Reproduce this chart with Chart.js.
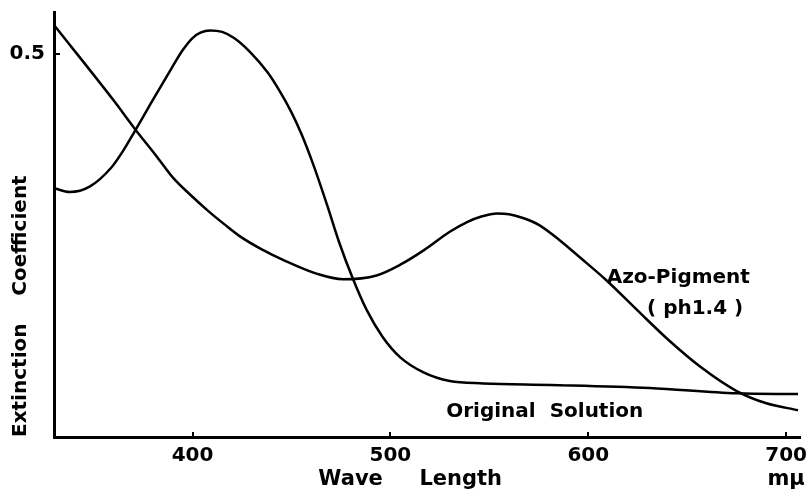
<!DOCTYPE html>
<html>
<head>
<meta charset="utf-8">
<script src="https://cdn.jsdelivr.net/npm/chart.js@4.4.1/dist/chart.umd.min.js"></script>
<style>
    html, body { margin: 0; padding: 0; background: #fff; }
</style>
</head>
<body>
<canvas id="myChart" width="809" height="498"></canvas>
<script>
// Original solution: wavelength (mµ) and extinction coefficient
const origWave = [330, 338, 348, 359, 365, 371, 379, 387, 395, 400, 404, 409, 415, 421, 429, 438, 444, 450, 455, 461, 468, 474, 481, 488, 496, 505, 517, 530, 547, 581, 631, 675, 706];
const origExt = [0.325, 0.320, 0.327, 0.352, 0.374, 0.400, 0.436, 0.471, 0.505, 0.521, 0.528, 0.531, 0.529, 0.521, 0.503, 0.476, 0.452, 0.424, 0.396, 0.356, 0.303, 0.255, 0.207, 0.166, 0.131, 0.104, 0.084, 0.073, 0.070, 0.068, 0.064, 0.057, 0.056];

// Azo-Pigment (ph 1.4)
const azoWave = [330, 360, 371, 382, 390, 399, 408, 416, 424, 435, 446, 463, 476, 493, 505, 517, 530, 539, 546, 554, 560, 567, 575, 586, 596, 609, 625, 640, 657, 675, 690, 706];
const azoExt = [0.538, 0.440, 0.402, 0.366, 0.339, 0.316, 0.295, 0.278, 0.262, 0.245, 0.231, 0.213, 0.206, 0.211, 0.225, 0.244, 0.268, 0.281, 0.288, 0.292, 0.291, 0.286, 0.277, 0.256, 0.234, 0.205, 0.165, 0.128, 0.091, 0.060, 0.044, 0.035];

const xTicks = [400, 500, 600, 700];
const yTicks = [0.5];

// text written inside the plot, placed in data units
const notes = [
    { text: "Azo-Pigment", x: 645.5, y: 0.208 },
    { text: "( ph1.4 )", x: 654, y: 0.168 },
    { text: "Original  Solution", x: 578, y: 0.033 }
];

const FONT = "'DejaVu Sans', sans-serif";

function toPoints(xs, ys) {
    return xs.map((x, i) => ({ x: x, y: ys[i] }));
}

const textPlugin = {
    id: "textPlugin",
    afterDraw(chart) {
        const ctx = chart.ctx;
        const xs = chart.scales.x;
        const ys = chart.scales.y;
        ctx.save();
        ctx.fillStyle = "#000";
        ctx.textAlign = "center";
        ctx.textBaseline = "middle";
        ctx.font = "bold 20px " + FONT;
        notes.forEach(n => {
            ctx.fillText(n.text, xs.getPixelForValue(n.x), ys.getPixelForValue(n.y));
        });
        // x axis title and unit
        ctx.font = "bold 21px " + FONT;
        ctx.fillText("Wave     Length", xs.getPixelForValue(510), 480);
        ctx.fillText("mμ", xs.getPixelForValue(700), 480);
        ctx.restore();
    }
};

const config = {
    type: "line",
    data: {
        datasets: [
            {
                label: "Azo-Pigment (ph1.4)",
                data: toPoints(azoWave, azoExt),
                borderColor: "#000",
                borderWidth: 2.5,
                pointRadius: 0,
                cubicInterpolationMode: "monotone"
            },
            {
                label: "Original Solution",
                data: toPoints(origWave, origExt),
                borderColor: "#000",
                borderWidth: 2.5,
                pointRadius: 0,
                cubicInterpolationMode: "monotone"
            }
        ]
    },
    options: {
        responsive: false,
        animation: false,
        devicePixelRatio: 1,
        layout: { padding: { top: 12, right: 9, left: 0, bottom: 0 } },
        plugins: {
            legend: { display: false },
            tooltip: { enabled: false }
        },
        scales: {
            x: {
                type: "linear",
                min: 330,
                max: 707,
                afterBuildTicks: s => { s.ticks = xTicks.map(v => ({ value: v })); },
                afterFit: s => { s.height = 61; s.paddingLeft = 0; s.paddingRight = 0; },
                ticks: {
                    color: "#000",
                    font: { family: FONT, size: 20, weight: "bold" },
                    padding: 12,
                    maxRotation: 0
                },
                grid: { drawOnChartArea: false, drawTicks: true, tickLength: -5, color: "#000", lineWidth: 2 },
                border: { color: "#000", width: 3 }
            },
            y: {
                type: "linear",
                min: 0,
                max: 0.555,
                afterBuildTicks: s => { s.ticks = yTicks.map(v => ({ value: v })); },
                afterFit: s => { s.width = 54; s.paddingTop = 0; s.paddingBottom = 0; },
                ticks: {
                    color: "#000",
                    font: { family: FONT, size: 20, weight: "bold" },
                    padding: 15,
                    callback: v => v.toString()
                },
                grid: { drawOnChartArea: false, drawTicks: true, tickLength: -6, color: "#000", lineWidth: 2 },
                border: { color: "#000", width: 3 },
                title: {
                    display: true,
                    text: "Extinction    Coefficient",
                    align: "start",
                    color: "#000",
                    font: { family: FONT, size: 20, weight: "bold" },
                    padding: { top: 9, bottom: 0 }
                }
            }
        }
    },
    plugins: [textPlugin]
};

const myChart = new Chart(document.getElementById("myChart"), config);
</script>
</body>
</html>
